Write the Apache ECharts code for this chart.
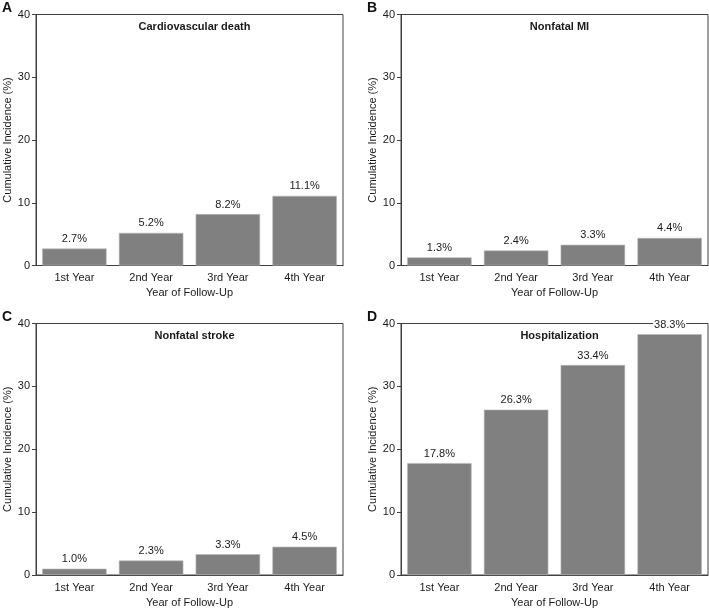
<!DOCTYPE html>
<html>
<head>
<meta charset="utf-8">
<script src="https://cdn.jsdelivr.net/npm/echarts@6/dist/echarts.min.js"></script>
<style>html,body{margin:0;padding:0;background:#fff;}#c{width:709px;height:609px;}</style>
</head>
<body>
<div id="c"></div>
<script>
const categories = ['1st Year', '2nd Year', '3rd Year', '4th Year'];
const cvDeath = [2.7, 5.2, 8.2, 11.1];
const nonfatalMI = [1.3, 2.4, 3.3, 4.4];
const nonfatalStroke = [1.0, 2.3, 3.3, 4.5];
const hospitalization = [17.8, 26.3, 33.4, 38.3];
const panelTitles = ['Cardiovascular death', 'Nonfatal MI', 'Nonfatal stroke', 'Hospitalization'];
const panelLetters = ['A', 'B', 'C', 'D'];
const yTicks = [0, 10, 20, 30, 40];
const yName = 'Cumulative Incidence (%)';
const xName = 'Year of Follow-Up';

const seriesData = [cvDeath, nonfatalMI, nonfatalStroke, hospitalization];
const FONT = '"Liberation Sans", Arial, sans-serif';
const TXT = '#1a1a1a';
const FRAME = '#404040';

const grids = [
  {left: 36, top: 14.5, width: 307, height: 251},
  {left: 401, top: 14.5, width: 307, height: 251},
  {left: 36, top: 323.5, width: 307, height: 252},
  {left: 401, top: 323.5, width: 307, height: 252}
];

const chart = echarts.init(document.getElementById('c'), null, {renderer: 'canvas'});

const option = {
  animation: false,
  backgroundColor: '#fff',
  textStyle: {fontFamily: FONT},
  grid: grids.map(g => Object.assign({show: true, borderColor: FRAME, borderWidth: 1, backgroundColor: 'transparent'}, g)),
  title: grids.map((g, i) => ({
    text: panelTitles[i],
    left: g.left + g.width / 2,
    top: g.top + 2,
    textAlign: 'center',
    textStyle: {fontFamily: FONT, fontSize: 11, fontWeight: 'bold', color: TXT}
  })),
  graphic: grids.map((g, i) => ({
    type: 'text',
    left: g.left - 34,
    top: g.top - 13,
    style: {text: panelLetters[i], font: 'bold 14px ' + FONT, fill: '#111'}
  })),
  xAxis: grids.map((g, i) => ({
    type: 'category',
    gridIndex: i,
    data: categories,
    name: xName,
    nameLocation: 'middle',
    nameGap: 22,
    nameTextStyle: {fontFamily: FONT, fontSize: 11, color: TXT},
    axisLine: {show: true, lineStyle: {color: FRAME}},
    axisTick: {show: false},
    axisLabel: {fontFamily: FONT, fontSize: 11, color: TXT, margin: 7}
  })),
  yAxis: grids.map((g, i) => ({
    type: 'value',
    gridIndex: i,
    min: 0,
    max: 40,
    interval: 10,
    name: yName,
    nameLocation: 'middle',
    nameGap: 23,
    nameTextStyle: {fontFamily: FONT, fontSize: 11, color: TXT},
    axisLine: {show: true, lineStyle: {color: FRAME}},
    axisTick: {show: true, length: 4, lineStyle: {color: FRAME}},
    splitLine: {show: false},
    axisLabel: {fontFamily: FONT, fontSize: 11, color: TXT, margin: 6,
      formatter: v => (yTicks.indexOf(v) >= 0 ? String(v) : '')}
  })),
  series: seriesData.map((d, i) => ({
    type: 'bar',
    xAxisIndex: i,
    yAxisIndex: i,
    data: d,
    barCategoryGap: '16%',
    itemStyle: {color: '#808080', borderColor: '#b8b8b8', borderWidth: 0.6},
    z: 3,
    label: {
      show: true,
      position: 'top',
      distance: 4,
      formatter: p => p.value.toFixed(1) + '%',
      fontFamily: FONT,
      fontSize: 11,
      color: TXT,
      backgroundColor: '#fff',
      padding: [0, 1]
    }
  }))
};
chart.setOption(option);
</script>
</body>
</html>
